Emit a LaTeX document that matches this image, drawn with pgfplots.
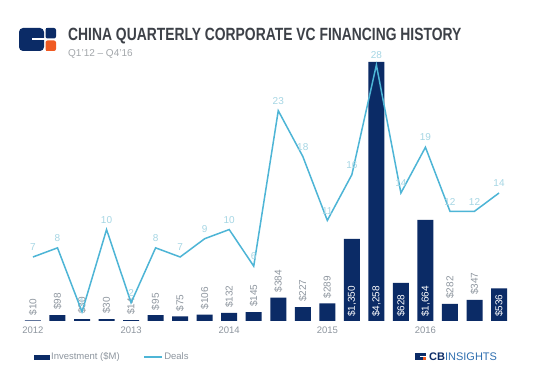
\documentclass[border=0pt]{standalone}
\usepackage{pgfplots}
\pgfplotsset{compat=1.18}
\usepackage{fontspec}
\setmainfont{Liberation Sans}
\definecolor{navy}{HTML}{0B2B66}
\definecolor{dealline}{HTML}{4DB5D6}
\definecolor{deallbl}{HTML}{A6D6E4}
\definecolor{barlbl}{HTML}{8E969F}
\definecolor{titlec}{HTML}{3D4148}
\definecolor{subc}{HTML}{A3A7AB}
\definecolor{logoorange}{HTML}{F05A22}
\definecolor{cbblue}{HTML}{2F6FB0}
\begin{document}
\begin{tikzpicture}
\path[use as bounding box, fill=white] (0pt,0pt) rectangle (536pt,386pt);
% header logo
\fill[navy, rounded corners=4pt] (19pt,335pt) rectangle (44pt,358pt);
\fill[white] (32pt,345.5pt) rectangle (44.5pt,347.8pt);
\fill[navy, rounded corners=2pt] (45.5pt,347.5pt) rectangle (56pt,358pt);
\fill[logoorange, rounded corners=2pt] (45.5pt,335pt) rectangle (56pt,345.5pt);
\fill[navy] (45.5pt,352pt) rectangle (50pt,358pt);
\fill[logoorange] (45.5pt,335pt) rectangle (50pt,340pt);
% titles
\node[anchor=base west, inner sep=0pt, text=titlec] at (68pt,345pt)
  {\scalebox{0.784}[1]{\fontsize{17.7}{20}\selectfont\bfseries CHINA QUARTERLY CORPORATE VC FINANCING HISTORY}};
\node[anchor=base west, inner sep=0pt, text=subc] at (68pt,329pt)
  {\fontsize{10}{12}\selectfont Q1'12 -- Q4'16};

\begin{axis}[at={(20.7pt,65pt)}, anchor=south west, scale only axis,
  width=490.6pt, height=261.6pt,
  xmin=-0.5, xmax=19.5, ymin=0, ymax=4300,
  axis line style={draw=none}, ytick=\empty,
  xtick={0,4,8,12,16}, xticklabels={2012,2013,2014,2015,2016},
  tick style={draw=none},
  xticklabel style={font=\fontsize{9.5}{11}\selectfont, text=barlbl, yshift=-2pt},
  clip=false]
\addplot[ybar, bar width=16pt, fill=navy, draw=none] coordinates {
 (0,10)(1,98)(2,30)(3,30)(4,14)(5,95)(6,75)(7,106)(8,132)(9,145)
 (10,384)(11,227)(12,289)(13,1350)(14,4258)(15,628)(16,1664)(17,282)(18,347)(19,536)};
% labels above small bars
\addplot[draw=none, mark=none, nodes near coords, point meta=explicit symbolic,
  nodes near coords style={rotate=90, anchor=west, inner xsep=5pt, inner ysep=0pt,
    font=\fontsize{10}{12}\selectfont, text=barlbl}] coordinates {
 (0,10)[\$10] (1,98)[\$98] (2,30)[\$30] (3,30)[\$30] (4,14)[\$14] (5,95)[\$95]
 (6,75)[\$75] (7,106)[\$106] (8,132)[\$132] (9,145)[\$145] (10,384)[\$384]
 (11,227)[\$227] (12,289)[\$289] (17,282)[\$282] (18,347)[\$347]};
% labels inside large bars
\addplot[draw=none, mark=none, nodes near coords, point meta=explicit symbolic,
  nodes near coords style={rotate=90, anchor=west, inner xsep=4pt, inner ysep=0pt,
    font=\fontsize{10}{12}\selectfont, text=white}] coordinates {
 (13,0)[\$1{,}350] (14,0)[\$4{,}258] (15,0)[\$628] (16,0)[\$1{,}664] (19,0)[\$536]};
\end{axis}

\begin{axis}[at={(20.7pt,65pt)}, anchor=south west, scale only axis,
  width=490.6pt, height=261.6pt,
  xmin=-0.5, xmax=19.5, ymin=0, ymax=28.61,
  hide axis, clip=false,
  legend columns=2,
  legend style={at={(0.02,-0.1376)}, anchor=west, draw=none, fill=none,
    font=\fontsize{9.5}{11}\selectfont, text=barlbl,
    /tikz/every even column/.append style={column sep=22pt}},
  legend cell align=left]
\addlegendimage{legend image code/.code={\fill[navy] (0pt,-2pt) rectangle (15pt,2pt);}}
\addlegendentry{Investment (\$M)}
\addplot[dealline, line width=1.5pt, mark=none] coordinates {
 (0,7)(1,8)(2,1)(3,10)(4,2)(5,8)(6,7)(7,9)(8,10)(9,6)
 (10,23)(11,18)(12,11)(13,16)(14,28)(15,14)(16,19)(17,12)(18,12)(19,14)};
\addlegendentry{Deals}
\addplot[forget plot, draw=none, mark=none, nodes near coords, point meta=explicit symbolic,
  nodes near coords style={anchor=south, inner sep=0pt, yshift=6pt,
    font=\fontsize{10}{12}\selectfont, text=deallbl}] coordinates {
 (0,7)[7] (1,8)[8] (2,1)[1] (3,10)[10] (4,2)[2] (5,8)[8] (6,7)[7] (7,9)[9] (8,10)[10] (9,6)[6]
 (10,23)[23] (11,18)[18] (12,11)[11] (13,16)[16] (14,28)[28] (15,14)[14] (16,19)[19]
 (17,12)[12] (18,12)[12] (19,14)[14]};
\end{axis}

% CB Insights logo
\fill[navy] (415pt,26pt) rectangle (426pt,33pt);
\fill[white] (420pt,29pt) rectangle (426pt,30pt);
\fill[logoorange] (423pt,26pt) rectangle (426pt,29pt);
\node[anchor=base west, inner sep=0pt] at (429pt,25.5pt)
  {\fontsize{11}{12}\selectfont\textcolor{navy}{\bfseries CB}\textcolor{cbblue}{INSIGHTS}};
\end{tikzpicture}
\end{document}
